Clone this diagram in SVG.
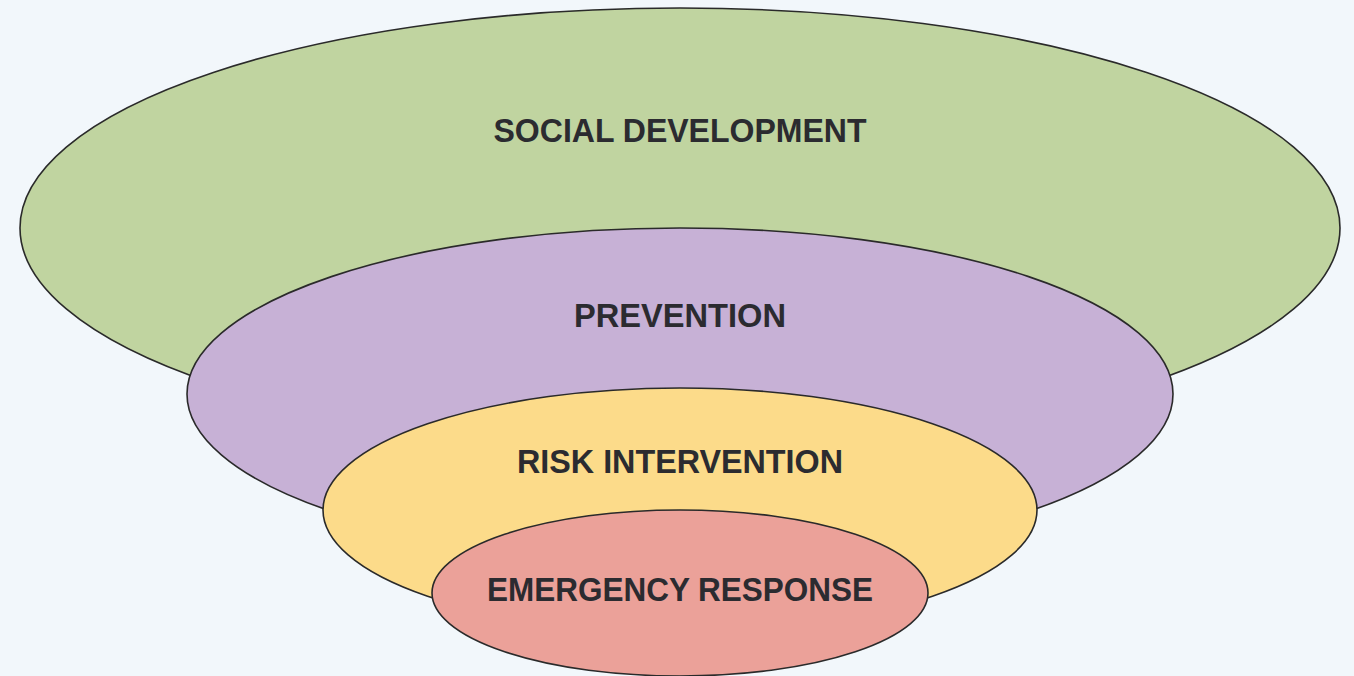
<svg xmlns="http://www.w3.org/2000/svg" width="1354" height="676" viewBox="0 0 1354 676">
<style>
.ring{stroke:#2a2a2a;stroke-width:1.6}
.lbl{font-family:"Liberation Sans",Arial,sans-serif;font-weight:bold;font-size:33px;fill:#2b2b30;text-anchor:middle;dominant-baseline:central}
</style>
<rect width="1354" height="676" fill="#f2f7fb"/>
<g id="social-development">
<ellipse class="ring" cx="680" cy="228" rx="660" ry="220" fill="#c0d4a0"/>
<text class="lbl" x="680" y="130" textLength="373" lengthAdjust="spacingAndGlyphs">SOCIAL DEVELOPMENT</text>
</g>
<g id="prevention">
<ellipse class="ring" cx="680" cy="394" rx="493" ry="166" fill="#c7b1d6"/>
<text class="lbl" x="680" y="315" textLength="212" lengthAdjust="spacingAndGlyphs">PREVENTION</text>
</g>
<g id="risk-intervention">
<ellipse class="ring" cx="680" cy="510" rx="357" ry="122" fill="#fcdb8a"/>
<text class="lbl" x="680" y="461" textLength="326" lengthAdjust="spacingAndGlyphs">RISK INTERVENTION</text>
</g>
<g id="emergency-response">
<ellipse class="ring" cx="680" cy="593" rx="248" ry="83" fill="#eba199"/>
<text class="lbl" x="680" y="589" textLength="386" lengthAdjust="spacingAndGlyphs">EMERGENCY RESPONSE</text>
</g>
<g id="connectors"></g>
</svg>
